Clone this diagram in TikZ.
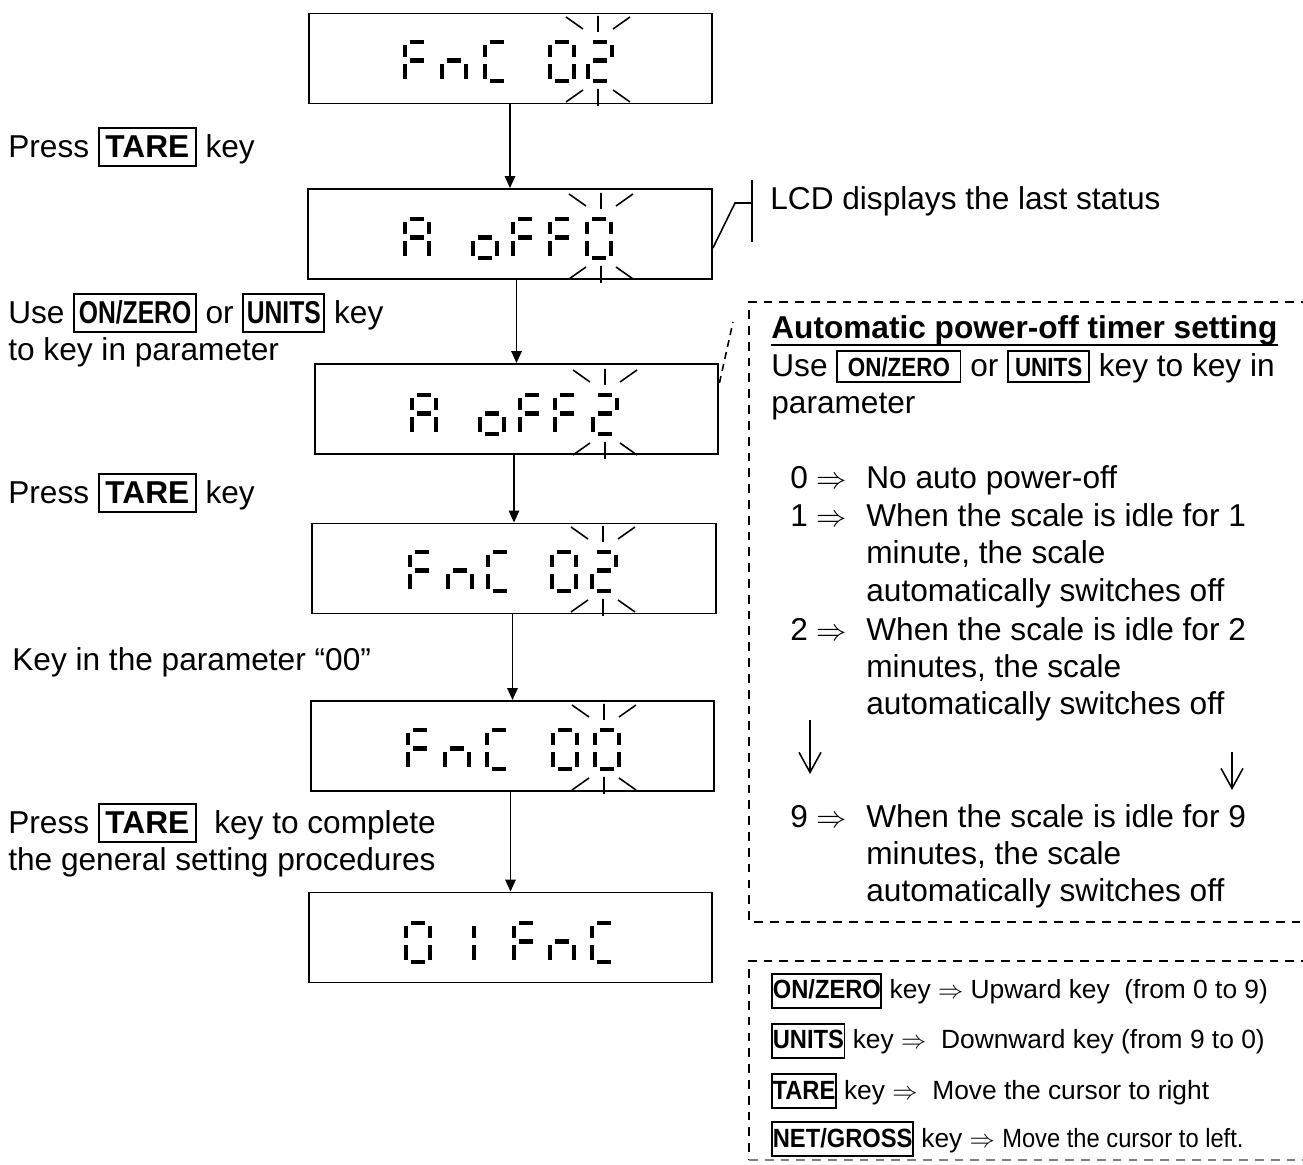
\documentclass[tikz,border=0pt]{standalone}
\usepackage{fontspec}
\setmainfont{Liberation Sans}
\usepackage{graphicx}
\usetikzlibrary{arrows.meta,calc,positioning}

\newcommand{\fbig}{\fontsize{18}{21.3}\selectfont}
\newcommand{\fsml}{\fontsize{15}{18}\selectfont}
\newdimen\kht
\newdimen\kdp
\newcommand{\keysz}[2]{\global\kht=#1\relax\global\kdp=#2\relax}
\setlength\fboxrule{1.1pt}
\setlength\fboxsep{0pt}
% a key cap: inner width, horizontal squeeze, label
\newcommand{\keyb}[3]{\fbox{\makebox[#1]{\vrule width 0pt height \kht depth \kdp\scalebox{#2}[1]{\bfseries #3}}}}

% seven-segment glyphs, named by the segments that are lit
\newcommand{\lcdglyph}[2]{\expandafter\def\csname lcd#1\endcsname{#2}}
\lcdglyph{F}{a,e,f,g}
\lcdglyph{n}{c,e,g}
\lcdglyph{C}{a,d,e,f}
\lcdglyph{A}{a,b,c,e,f,g}
\lcdglyph{o}{c,d,e,g}
\lcdglyph{0}{a,b,c,d,e,f}
\lcdglyph{1}{b,c}
\lcdglyph{2}{a,b,d,e,g}

% #1,#2 = left stroke and top stroke of the digit (px), #3 = glyph
\newcommand{\lcdchar}[3]{%
  \edef\lcdsegs{\csname lcd#3\endcsname}%
  \begin{scope}[shift={(#1,#2)},x=0.48cm,y=-0.78cm]
  \foreach \s in \lcdsegs{
    \if a\s \draw[seg] (0.2,0) -- (0.8,0); \fi
    \if b\s \draw[seg] (1,0.07) -- (1,0.39); \fi
    \if c\s \draw[seg] (1,0.56) -- (1,0.94); \fi
    \if d\s \draw[seg] (0.2,1) -- (0.8,1); \fi
    \if e\s \draw[seg] (0,0.56) -- (0,0.94); \fi
    \if f\s \draw[seg] (0,0.07) -- (0,0.39); \fi
    \if g\s \draw[seg] (0.2,0.47) -- (0.8,0.47); \fi
  }
  \end{scope}}

% flashing marks round the digit being edited: #1 = its centre, #2 = its top
\newcommand{\blink}[2]{%
  \draw[blk] (#1,#2-26) -- (#1,#2-10) (#1-32,#2-25) -- (#1-15,#2-13)
    (#1+15,#2-13) -- (#1+32,#2-25)
    (#1,#2+47) -- (#1,#2+64) (#1-32,#2+60) -- (#1-15,#2+48)
    (#1+15,#2+48) -- (#1+32,#2+60);}

\tikzset{
  lcd/.style={draw,line width=1.1pt,minimum width=8.08cm,minimum height=1.8cm,inner sep=0pt},
  seg/.style={line width=2.7pt,line cap=butt},
  blk/.style={line width=.9pt},
  flw/.style={line width=.9pt,-{Triangle[length=2.4mm,width=2.1mm]}},
  cl/.style={line width=.9pt},
  dsh/.style={line width=1.1pt,dash pattern=on 5pt off 4pt},
  dshc/.style={line width=.9pt,dash pattern=on 4pt off 3pt},
  dwn/.style={line width=.9pt,-{Straight Barb[length=4mm,width=4.4mm]}},
  lb/.style={anchor=base west,inner sep=0pt,font=\fbig\keysz{16.5pt}{4pt}},
  lbk/.style={anchor=base west,inner sep=0pt,font=\fbig\keysz{14.2pt}{2.3pt}},
  lbs/.style={anchor=base west,inner sep=0pt,font=\fsml\keysz{13.5pt}{4.5pt}},
}

\begin{document}
\begin{tikzpicture}[x=0.02cm,y=-0.02cm]
\useasboundingbox (0,0) rectangle (1303,1165);

% the six displays, top to bottom
\node[lcd] (d1) at (510.5,58.5) {};
\node[lcd] (d2) at (510,234) {};
\node[lcd] (d3) at (516.5,409) {};
\node[lcd] (d4) at (514,568.5) {};
\node[lcd] (d5) at (512.5,746) {};
\node[lcd] (d6) at (510.5,937.5) {};

\foreach \x/\gl in {405/F,442/n,485/C,550/0,588/2}{\lcdchar{\x}{42}{\gl}}
\foreach \x/\gl in {405/A,473/o,513/F,550/F,587/0}{\lcdchar{\x}{219}{\gl}}
\foreach \x/\gl in {412/A,480/o,520/F,555/F,593/2}{\lcdchar{\x}{395}{\gl}}
\foreach \x/\gl in {410/F,448/n,488/C,552/0,592/2}{\lcdchar{\x}{552}{\gl}}
\foreach \x/\gl in {408/F,445/n,487/C,553/0,595/0}{\lcdchar{\x}{730}{\gl}}
\foreach \x/\gl in {406/0,450/1,514/F,550/n,592/C}{\lcdchar{\x}{923}{\gl}}
\blink{598}{42}
\blink{601}{219}
\blink{605}{395}
\blink{603}{552}
\blink{604}{730}

\foreach \a/\b in {d1/d2,d2/d3,d3/d4,d4/d5,d5/d6}
  \draw[flw] (\a.south -| \b.north) -- (\b.north);

% what to press between the displays
\node[lb] (p1) at (8,158) {Press \keyb{54pt}{1}{TARE} key};
\node[lb] (p2a) at (8,324) {Use \keyb{68pt}{.78}{ON/ZERO} or \keyb{45pt}{.78}{UNITS} key};
\node[lb] (p2b) at (8,361) {to key in parameter};
\node[lb] (p3) at (8,504) {Press \keyb{54pt}{1}{TARE} key};
\node[lb] (p4) at (12,671) {Key in the parameter “00”};
\node[lb] (p5a) at (8,834) {Press \keyb{54pt}{1}{TARE}\ \ key to complete};
\node[lb] (p5b) at (8,871) {the general setting procedures};

% callouts
\node[lb] (last) at (770,210) {LCD displays the last status};
\coordinate (lk) at (735,203);
\coordinate (lt) at (752,203);
\draw[cl] ([yshift=-0.28cm]d2.east) -- (lk) -- (lt);
\draw[cl] ([yshift=0.46cm]lt) -- ([yshift=-0.78cm]lt);
\coordinate (pk) at (733,322);
\draw[dshc] ([yshift=0.52cm]d3.east) -- (pk);

% timer panel
\draw[dsh] (1310,302) -| (749,922) -- (1310,922);
\node[lb,font=\fbig\bfseries] (ttl) at (771,339) {Automatic power-off timer setting};
\draw[line width=1.1pt] ([yshift=-3.2pt]ttl.base west) -- ([yshift=-3.2pt]ttl.base east);
\node[lbk] (use) at (771,377)
  {Use \keyb{69pt}{.85}{\fontsize{15}{18}\selectfont ON/ZERO} or
   \keyb{45pt}{.85}{\fontsize{15}{18}\selectfont UNITS} key to key in};
\node[lb] (par) at (771,414) {parameter};
\node[lb] (n0) at (790,489) {0 $\Rightarrow$};
\node[lb] (i0) at (866,489) {No auto power-off};
\node[lb] (n1) at (790,527) {1 $\Rightarrow$};
\node[lb] (i1a) at (866,527) {When the scale is idle for 1};
\node[lb] (i1b) at (866,564) {minute, the scale};
\node[lb] (i1c) at (866,602) {automatically switches off};
\node[lb] (n2) at (790,641) {2 $\Rightarrow$};
\node[lb] (i2a) at (866,641) {When the scale is idle for 2};
\node[lb] (i2b) at (866,678) {minutes, the scale};
\node[lb] (i2c) at (866,715) {automatically switches off};
\coordinate (ua) at (810,720);
\coordinate (ub) at (810,774);
\coordinate (va) at (1232,752);
\coordinate (vb) at (1232,790);
\draw[dwn] (ua) -- (ub);
\draw[dwn] (va) -- (vb);
\node[lb] (n9) at (790,828) {9 $\Rightarrow$};
\node[lb] (i9a) at (866,828) {When the scale is idle for 9};
\node[lb] (i9b) at (866,865) {minutes, the scale};
\node[lb] (i9c) at (866,902) {automatically switches off};

% key legend
\draw[dsh] (1310,961) -| (749,1160);
\draw[dsh,black!50] (749,1160) -- (1310,1160);
\node[lbs] (k1) at (771,999) {\keyb{61pt}{.9}{ON/ZERO} key $\Rightarrow$ Upward key~~(from 0 to 9)};
\node[lbs] (k2) at (771,1049) {\keyb{40pt}{.9}{UNITS} key $\Rightarrow$~ Downward key (from 9 to 0)};
\node[lbs] (k3) at (771,1099) {\keyb{35pt}{.9}{TARE} key $\Rightarrow$~ Move the cursor to right};
\node[lbs] (k4) at (771,1147) {\keyb{79pt}{.9}{NET/GROSS} key $\Rightarrow$ \scalebox{.9}[1]{Move the cursor to left.}};
\end{tikzpicture}
\end{document}
